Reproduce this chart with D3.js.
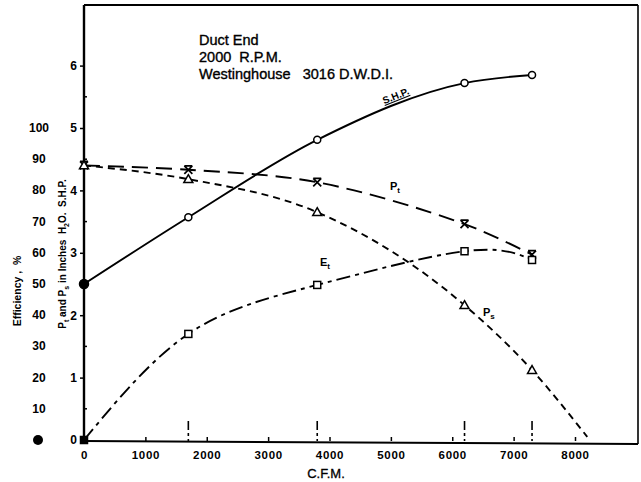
<!DOCTYPE html>
<html>
<head>
<meta charset="utf-8">
<script src="https://cdn.jsdelivr.net/npm/d3@7"></script>
<style>
  html, body { margin: 0; padding: 0; background: #fff; }
  svg { display: block; }
  text { font-family: "Liberation Sans", Arial, Helvetica, sans-serif; fill: #000; }
</style>
</head>
<body>
<svg id="chart" width="641" height="482"></svg>
<script>
// ---------------- data ----------------
const cfm = [0, 1700, 3800, 6200, 7300];
const shp = [2.5, 3.57, 4.81, 5.72, 5.85];          // S.H.P.
const pt  = [4.4, 4.33, 4.13, 3.46, 2.97];          // P_t, inches H2O
const ps  = [4.4, 4.18, 3.65, 2.16, 1.12];          // P_s, inches H2O
const psEndCfm = 8200, psEndValue = 0.05;           // end of the P_s curve
const et  = [0, 34, 49.7, 60.5, 57.7];              // E_t, efficiency %
const xTicks = [0, 1000, 2000, 3000, 4000, 5000, 6000, 7000, 8000];
const innerTicks = [0, 1, 2, 3, 4, 5, 6];
const innerMinor = [0.5, 1.5, 2.5, 3.5, 4.5, 5.5];
const effTicks = [10, 20, 30, 40, 50, 60, 70, 80, 90, 100];
const headerLines = ["Duct End", "2000  R.P.M.", "Westinghouse   3016 D.W.D.I."];

// ---------------- scales ----------------
const svg = d3.select("#chart");
const x = d3.scaleLinear().domain([0, 8000]).range([84, 575]);
const y = d3.scaleLinear().domain([0, 6]).range([440, 65.6]);
const yEff = d3.scaleLinear().domain([0, 100]).range([y(0), y(5)]);

const fL = 84, fR = 638, fT = 5, fB = 441;

// ---------------- frame ----------------
svg.append("line").attr("x1", fL).attr("x2", fR).attr("y1", fT).attr("y2", fT)
  .attr("stroke", "#000").attr("stroke-width", 2);
svg.append("line").attr("x1", fR).attr("x2", fR).attr("y1", fT).attr("y2", fB + 3)
  .attr("stroke", "#000").attr("stroke-width", 1.6);
svg.append("line").attr("x1", fL).attr("x2", fR).attr("y1", fB).attr("y2", fB + 3)
  .attr("stroke", "#000").attr("stroke-width", 2);
svg.append("line").attr("x1", fL).attr("x2", fL).attr("y1", fT).attr("y2", fB)
  .attr("stroke", "#000").attr("stroke-width", 2.4);

// ---------------- x axis ----------------
const xAxis = d3.axisBottom(x).tickValues(xTicks).tickSize(-4).tickPadding(10)
  .tickFormat(d3.format("d"));
const gx = svg.append("g").attr("transform", `translate(0,${fB})`).call(xAxis);
gx.select(".domain").remove();
gx.selectAll(".tick line").attr("stroke", "#000").attr("stroke-width", 1.5);
gx.selectAll(".tick text").style("font-size", "11.5px").style("font-weight", "bold")
  .style("letter-spacing", "0.7px").attr("fill", "#000").attr("font-family", null);

svg.append("text").attr("x", 326).attr("y", 478).attr("text-anchor", "middle")
  .style("font-size", "13px").attr("stroke", "#000").attr("stroke-width", 0.3).text("C.F.M.");

// dashed vertical markers at the test points
svg.selectAll(".vmark").data(cfm.slice(1)).enter().append("line")
  .attr("x1", d => x(d)).attr("x2", d => x(d)).attr("y1", 421).attr("y2", fB)
  .attr("stroke", "#000").attr("stroke-width", 1.6).attr("stroke-dasharray", "9,3,3,3");

// ---------------- inner y axis (inches / S.H.P.) ----------------
const yAxis = d3.axisLeft(y).tickValues(innerTicks).tickSize(4).tickPadding(3)
  .tickFormat(d3.format("d"));
const gy = svg.append("g").attr("transform", `translate(${fL},0)`).call(yAxis);
gy.select(".domain").remove();
gy.selectAll(".tick line").attr("stroke", "#000").attr("stroke-width", 1.5);
gy.selectAll(".tick text").style("font-size", "12px").style("font-weight", "bold")
  .attr("fill", "#000").attr("font-family", null);
svg.selectAll(".minor").data(innerMinor).enter().append("line")
  .attr("x1", fL).attr("x2", fL + 3).attr("y1", d => y(d)).attr("y2", d => y(d))
  .attr("stroke", "#000").attr("stroke-width", 1.5);

// ---------------- efficiency labels ----------------
svg.selectAll(".eff").data(effTicks).enter().append("text")
  .attr("x", 39).attr("y", d => yEff(d) + 4).attr("text-anchor", "middle")
  .style("font-size", "12px").style("font-weight", "bold").text(d => d);
svg.append("circle").attr("cx", 38).attr("cy", yEff(0)).attr("r", 5).attr("fill", "#000");

// rotated axis titles
svg.append("text").attr("transform", "translate(21,291) rotate(-90)")
  .attr("text-anchor", "middle").style("font-size", "10.5px").style("font-weight", "bold")
  .style("white-space", "pre").text("Efficiency ,  %");
const t2 = svg.append("text").attr("transform", "translate(66,254) rotate(-90)")
  .attr("text-anchor", "middle").style("font-size", "10px").style("font-weight", "bold")
  .style("white-space", "pre");
t2.append("tspan").text("P");
t2.append("tspan").attr("dy", 3).style("font-size", "7px").text("t");
t2.append("tspan").attr("dy", -3).text(" and P");
t2.append("tspan").attr("dy", 3).style("font-size", "7px").text("s");
t2.append("tspan").attr("dy", -3).text(" in Inches  H");
t2.append("tspan").attr("dy", 3).style("font-size", "7px").text("2");
t2.append("tspan").attr("dy", -3).text("O.  S.H.P.");

// ---------------- header ----------------
svg.selectAll(".hdr").data(headerLines).enter().append("text")
  .attr("x", 199).attr("y", (d, i) => 45 + i * 17)
  .style("font-size", "14.5px").style("white-space", "pre")
  .attr("stroke", "#000").attr("stroke-width", 0.35)
  .text(d => d);

// ---------------- curves ----------------
function series(vals, scale) { return cfm.map((c, i) => [x(c), scale(vals[i])]); }

const shpPts = series(shp, y);
const ptPts = series(pt, y);
const psPts = series(ps, y).concat([[x(psEndCfm), y(psEndValue)]]);
const etPts = series(et, yEff);

const lineMono = d3.line().curve(d3.curveMonotoneX);
const lineCR = d3.line().curve(d3.curveCatmullRom.alpha(0.5));
const lineNat = d3.line().curve(d3.curveNatural);

svg.append("path").attr("d", lineMono(shpPts)).attr("fill", "none")
  .attr("stroke", "#000").attr("stroke-width", 1.9);
svg.append("path").attr("d", lineCR(ptPts)).attr("fill", "none")
  .attr("stroke", "#000").attr("stroke-width", 1.9).attr("stroke-dasharray", "16,8");
svg.append("path").attr("d", lineMono(psPts)).attr("fill", "none")
  .attr("stroke", "#000").attr("stroke-width", 1.9).attr("stroke-dasharray", "7,5");
svg.append("path").attr("d", lineNat(etPts)).attr("fill", "none")
  .attr("stroke", "#000").attr("stroke-width", 1.9).attr("stroke-dasharray", "14,5,4,5");

// ---------------- markers ----------------
svg.selectAll(".mc").data(shpPts).enter().append("circle")
  .attr("cx", d => d[0]).attr("cy", d => d[1]).attr("r", (d, i) => i === 0 ? 4.5 : 3.5)
  .attr("fill", (d, i) => i === 0 ? "#000" : "#fff").attr("stroke", "#000").attr("stroke-width", 1.5);
svg.selectAll(".mx").data(ptPts).enter().append("path")
  .attr("d", d => { const [cx, cy] = d, s = 4;
    return `M${cx - s},${cy - s}L${cx + s},${cy + s}M${cx + s},${cy - s}L${cx - s},${cy + s}M${cx - s},${cy - s}L${cx + s},${cy - s}`; })
  .attr("fill", "none").attr("stroke", "#000").attr("stroke-width", 1.7);
svg.selectAll(".mt").data(psPts.slice(0, cfm.length)).enter().append("path")
  .attr("d", d => { const [cx, cy] = d, s = 4.5;
    return `M${cx},${cy - s}L${cx + s},${cy + s * 0.75}L${cx - s},${cy + s * 0.75}Z`; })
  .attr("fill", "#fff").attr("stroke", "#000").attr("stroke-width", 1.5);
svg.selectAll(".ms").data(etPts).enter().append("rect")
  .attr("x", d => d[0] - 3.5).attr("y", d => d[1] - 3.5).attr("width", 7).attr("height", 7)
  .attr("fill", (d, i) => i === 0 ? "#000" : "#fff").attr("stroke", "#000").attr("stroke-width", 1.5);

// ---------------- curve labels ----------------
svg.append("text").attr("transform", "translate(397,99) rotate(-22)")
  .attr("text-anchor", "middle").style("font-size", "10px").style("font-weight", "bold")
  .style("text-decoration", "underline").text("S.H.P.");

function subLabel(xp, yp, main, sub) {
  const t = svg.append("text").attr("x", xp).attr("y", yp)
    .style("font-size", "11px").style("font-weight", "bold");
  t.append("tspan").text(main);
  t.append("tspan").attr("dy", 3).style("font-size", "8px").text(sub);
}
subLabel(390, 190, "P", "t");
subLabel(320, 266, "E", "t");
subLabel(483, 316, "P", "s");
</script>
</body>
</html>
